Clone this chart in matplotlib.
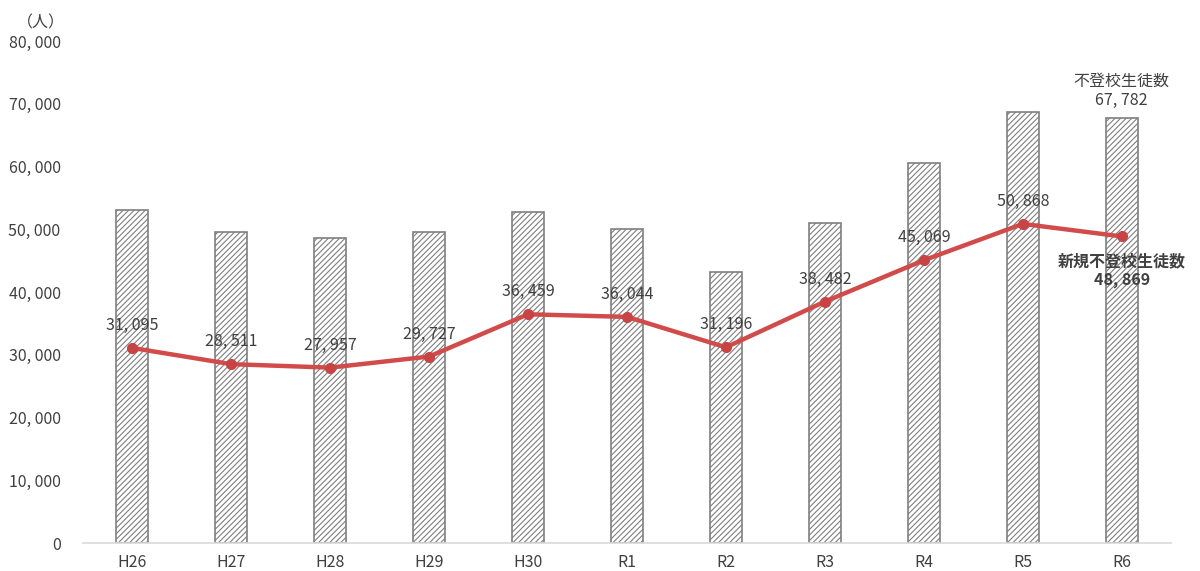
import matplotlib
matplotlib.use("Agg")
import matplotlib.pyplot as plt
from matplotlib.ticker import FuncFormatter

plt.rcParams['font.family'] = ['Noto Sans CJK JP', 'DejaVu Sans']
plt.rcParams['hatch.linewidth'] = 0.8
plt.rcParams['hatch.color'] = '#7f7f7f'

categories = ["H26", "H27", "H28", "H29", "H30", "R1", "R2", "R3", "R4", "R5", "R6"]
total_students = [53100, 49600, 48600, 49600, 52800, 50100, 43200, 51000, 60600, 68700, 67782]
new_students = [31095, 28511, 27957, 29727, 36459, 36044, 31196, 38482, 45069, 50868, 48869]
yticks = [0, 10000, 20000, 30000, 40000, 50000, 60000, 70000, 80000]


def fmt(v):
    return f"{int(v):,}".replace(",", ", ")


fig = plt.figure(figsize=(12, 5.71), dpi=100)
ax = fig.add_axes([0.069, 0.049, 0.907, 0.879])

x = list(range(len(categories)))
ax.bar(x, total_students, width=0.32, color='white', edgecolor='#7f7f7f',
       linewidth=1.2, hatch='//////', zorder=2)
ax.plot(x, new_students, color='#d24b4b', linewidth=3.2, marker='o',
        markersize=7, markerfacecolor='#c84444', markeredgecolor='#c84444', zorder=3)

txt = '#404040'
fs = 11.5
for i, v in enumerate(new_students[:-1]):
    ax.annotate(fmt(v), (i, v), xytext=(0, 10), textcoords='offset points',
                ha='center', va='bottom', fontsize=fs, color=txt, zorder=4)
ax.annotate(f"新規不登校生徒数\n{fmt(new_students[-1])}", (x[-1], new_students[-1]),
            xytext=(0, -12), textcoords='offset points', ha='center', va='top',
            fontsize=fs, color=txt, fontweight='bold', linespacing=1.2, zorder=4)
ax.annotate(f"不登校生徒数\n{fmt(total_students[-1])}", (x[-1], total_students[-1]),
            xytext=(0, 6), textcoords='offset points', ha='center', va='bottom',
            fontsize=fs, color=txt, linespacing=1.2, zorder=4)

ax.set_xlim(-0.5, len(categories) - 0.5)
ax.set_ylim(0, 80000)
ax.set_yticks(yticks)
ax.yaxis.set_major_formatter(FuncFormatter(lambda v, p: fmt(v)))
ax.set_xticks(x)
ax.set_xticklabels(categories)
ax.tick_params(axis='both', length=0, labelsize=fs, colors=txt, pad=8)
ax.tick_params(axis='y', pad=16)
for s in ['top', 'right', 'left']:
    ax.spines[s].set_visible(False)
ax.spines['bottom'].set_color('#d9d9d9')
ax.spines['bottom'].set_linewidth(1.2)

fig.text(0.014, 0.975, "（人）", fontsize=fs, color=txt, ha='left', va='top')

fig.savefig("out.png", dpi=100)
